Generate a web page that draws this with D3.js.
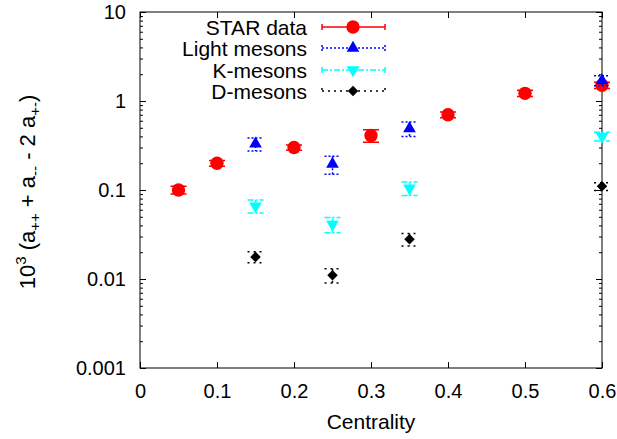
<!DOCTYPE html>
<html lang="en">
<head>
<meta charset="utf-8">
<script src="https://d3js.org/d3.v7.min.js"></script>
<style>
  body { margin: 0; background: #fff; }
  svg text { font-family: "Liberation Sans", Arial, sans-serif; fill: #000; }
</style>
</head>
<body>
<div id="container"></div>
<script>
// centrality values and 10^3 correlator values
var starX = [0.05, 0.1, 0.2, 0.3, 0.4, 0.5, 0.6];
var starY = [0.1, 0.2, 0.3, 0.41, 0.7, 1.22, 1.5];
var starErr = [0.01, 0.015, 0.02, 0.065, 0.05, 0.1, 0.12];

var lightX = [0.15, 0.25, 0.35, 0.6];
var lightY = [0.33, 0.195, 0.49, 1.7];
var lightErr = [0.055, 0.045, 0.09, 0.22];

var kX = [0.15, 0.25, 0.35, 0.6];
var kY = [0.066, 0.041, 0.105, 0.4];
var kErr = [0.011, 0.008, 0.018, 0.045];

var dX = [0.15, 0.25, 0.35, 0.6];
var dY = [0.0177, 0.011, 0.028, 0.11];
var dErr = [0.0025, 0.002, 0.0045, 0.011];

var xTicks = [0, 0.1, 0.2, 0.3, 0.4, 0.5, 0.6];
var yTicks = [0.001, 0.01, 0.1, 1, 10];
var yTickLabels = ["0.001", "0.01", "0.1", "1", "10"];

var W = 617, H = 439;
var pl = 140, pr = 602, pt = 12, pb = 368;

var svg = d3.select("#container").append("svg")
    .attr("width", W).attr("height", H);

var x = d3.scaleLinear().domain([0, 0.6]).range([pl, pr]);
var y = d3.scaleLog().domain([0.001, 10]).range([pb, pt]);

var minors = y.ticks().filter(function(v) { return yTicks.indexOf(v) < 0; });

// frame
svg.append("rect")
    .attr("x", pl).attr("y", pt)
    .attr("width", pr - pl).attr("height", pb - pt)
    .attr("fill", "none").attr("stroke", "#000").attr("stroke-width", 1);

function styleAxis(g) {
    g.select(".domain").remove();
    g.selectAll("line").attr("stroke", "#000");
    g.selectAll("text").style("font-size", "20px").style("font-family", "'Liberation Sans', Arial, sans-serif");
}

svg.append("g").attr("transform", "translate(" + pl + ",0)")
    .call(d3.axisLeft(y).tickValues(yTicks).tickSizeInner(-6).tickSizeOuter(0).tickPadding(14)
        .tickFormat(function(d, i) { return yTickLabels[i]; }))
    .call(styleAxis);
svg.append("g").attr("transform", "translate(" + pl + ",0)")
    .call(d3.axisLeft(y).tickValues(minors).tickSize(-3).tickFormat(""))
    .call(styleAxis);
svg.append("g").attr("transform", "translate(" + pr + ",0)")
    .call(d3.axisRight(y).tickValues(yTicks).tickSize(-6).tickFormat(""))
    .call(styleAxis);
svg.append("g").attr("transform", "translate(" + pr + ",0)")
    .call(d3.axisRight(y).tickValues(minors).tickSize(-3).tickFormat(""))
    .call(styleAxis);
svg.append("g").attr("transform", "translate(0," + pb + ")")
    .call(d3.axisBottom(x).tickValues(xTicks).tickSizeInner(-6).tickSizeOuter(0).tickPadding(16)
        .tickFormat(function(d) { return d === 0 ? "0" : d3.format(".1f")(d); }))
    .call(styleAxis);
svg.append("g").attr("transform", "translate(0," + pt + ")")
    .call(d3.axisTop(x).tickValues(xTicks).tickSize(-6).tickFormat(""))
    .call(styleAxis);

// axis titles
svg.append("text")
    .attr("x", (pl + pr) / 2).attr("y", 429)
    .attr("text-anchor", "middle").style("font-size", "21px")
    .text("Centrality");

var yl = svg.append("text")
    .attr("transform", "translate(35,192) rotate(-90)")
    .attr("text-anchor", "middle").style("font-size", "22px");
yl.append("tspan").text("10");
yl.append("tspan").attr("dy", -9).style("font-size", "15px").text("3");
yl.append("tspan").attr("dy", 9).text(" (a");
yl.append("tspan").attr("dy", 5).style("font-size", "15px").text("++");
yl.append("tspan").attr("dy", -5).text(" + a");
yl.append("tspan").attr("dy", 5).style("font-size", "15px").text("--");
yl.append("tspan").attr("dy", -5).text(" - 2 a");
yl.append("tspan").attr("dy", 5).style("font-size", "15px").text("+-");
yl.append("tspan").attr("dy", -5).text(")");

var series = [
    { name: "STAR data", xs: starX, ys: starY, es: starErr, color: "#ff0000", dash: null,
      shape: d3.symbolCircle, size: 140, rot: 0 },
    { name: "Light mesons", xs: lightX, ys: lightY, es: lightErr, color: "#0000ff", dash: "2,2",
      shape: d3.symbolTriangle, size: 70, rot: 0 },
    { name: "K-mesons", xs: kX, ys: kY, es: kErr, color: "#00ffff", dash: "6,2,2,2",
      shape: d3.symbolTriangle, size: 70, rot: 180 },
    { name: "D-mesons", xs: dX, ys: dY, es: dErr, color: "#000000", dash: "2,4",
      shape: d3.symbolSquare, size: 55, rot: 45 }
];

var cap = 8;
series.forEach(function(s) {
    var g = svg.append("g");
    s.xs.forEach(function(xv, i) {
        var cx = x(xv), hi = y(s.ys[i] + s.es[i]), lo = y(s.ys[i] - s.es[i]);
        var p = d3.path();
        p.moveTo(cx, hi); p.lineTo(cx, lo);
        p.moveTo(cx - cap, hi); p.lineTo(cx + cap, hi);
        p.moveTo(cx - cap, lo); p.lineTo(cx + cap, lo);
        g.append("path").attr("d", p.toString())
            .attr("fill", "none").attr("stroke", s.color).attr("stroke-width", 1.5)
            .attr("stroke-dasharray", s.dash);
        g.append("path")
            .attr("d", d3.symbol().type(s.shape).size(s.size)())
            .attr("transform", "translate(" + cx + "," + y(s.ys[i]) + ") rotate(" + s.rot + ")")
            .attr("fill", s.color);
    });
});

// legend
var legY = [27, 48, 70, 91];
series.forEach(function(s, i) {
    var ly = legY[i];
    svg.append("text").attr("x", 307).attr("y", ly).attr("dy", "0.36em")
        .attr("text-anchor", "end").style("font-size", "21px").text(s.name);
    var p = d3.path();
    p.moveTo(322, ly); p.lineTo(385, ly);
    p.moveTo(322, ly - 3); p.lineTo(322, ly + 3);
    p.moveTo(385, ly - 3); p.lineTo(385, ly + 3);
    svg.append("path").attr("d", p.toString())
        .attr("fill", "none").attr("stroke", s.color).attr("stroke-width", 1.5)
        .attr("stroke-dasharray", s.dash);
    svg.append("path")
        .attr("d", d3.symbol().type(s.shape).size(s.size)())
        .attr("transform", "translate(353," + ly + ") rotate(" + s.rot + ")")
        .attr("fill", s.color);
});
</script>
</body>
</html>
